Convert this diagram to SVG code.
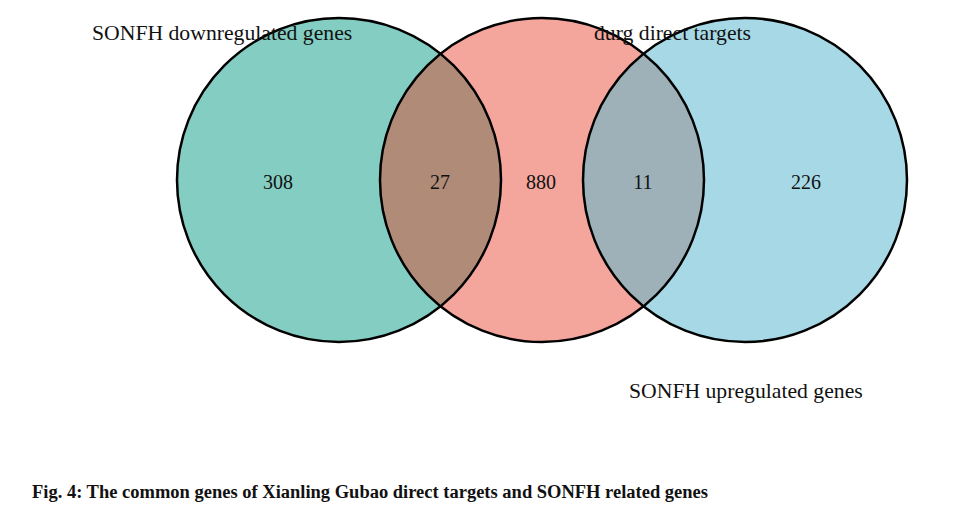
<svg xmlns="http://www.w3.org/2000/svg" width="973" height="507" viewBox="0 0 973 507">
<style>
.ring{stroke:#000;stroke-width:2.5;}
.lab{font-family:"Liberation Serif","Times New Roman",serif;font-size:21.7px;fill:#111;}
.num{font-family:"Liberation Serif","Times New Roman",serif;font-size:20px;fill:#111;text-anchor:middle;}
.cap{font-family:"Liberation Serif","Times New Roman",serif;font-size:18px;font-weight:bold;fill:#111;}
</style>
<rect width="973" height="507" fill="#fff"/>
<g id="set-down">
<circle cx="339" cy="180" r="162" fill="#84CDC2"/>
</g>
<g id="set-drug">
<circle cx="542" cy="180" r="162" fill="#F4A59C"/>
</g>
<g id="set-up">
<circle cx="745" cy="180" r="162" fill="#A6D9E5"/>
</g>
<g id="overlaps">
<path d="M440.5 53.7 A162 162 0 0 0 440.5 306.3 A162 162 0 0 0 440.5 53.7Z" fill="#B08C78"/>
<path d="M643.5 53.7 A162 162 0 0 0 643.5 306.3 A162 162 0 0 0 643.5 53.7Z" fill="#9FB1B8"/>
</g>
<g id="outlines" fill="none">
<circle class="ring" cx="339" cy="180" r="162"/>
<circle class="ring" cx="542" cy="180" r="162"/>
<circle class="ring" cx="745" cy="180" r="162"/>
</g>
<g id="labels">
<text class="lab" x="92" y="40">SONFH downregulated genes</text>
<text class="lab" x="594" y="40">durg direct targets</text>
<text class="lab" x="629" y="398">SONFH upregulated genes</text>
</g>
<g id="counts">
<text class="num" x="278" y="189">308</text>
<text class="num" x="440" y="189">27</text>
<text class="num" x="541" y="189">880</text>
<text class="num" x="643" y="189">11</text>
<text class="num" x="806" y="189">226</text>
</g>
<text class="cap" x="32" y="498" textLength="676" lengthAdjust="spacingAndGlyphs">Fig. 4: The common genes of Xianling Gubao direct targets and SONFH related genes</text>
</svg>
